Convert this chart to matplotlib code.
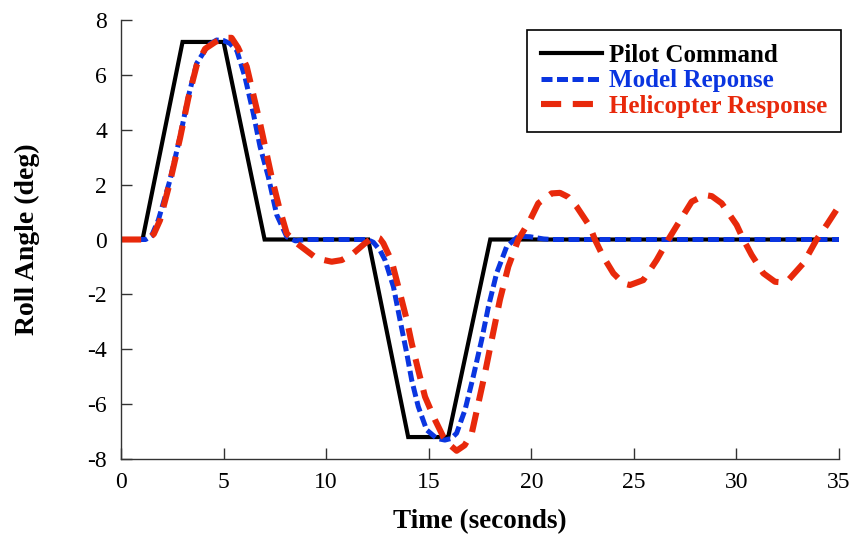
import matplotlib
matplotlib.use('Agg')
from matplotlib import pyplot as plt

plt.rcParams['font.family'] = ['Liberation Serif', 'DejaVu Serif']
plt.rcParams['axes.unicode_minus'] = False

# pilot command (trapezoids)
pilot_t = [0, 1.05, 3, 5, 7, 12.05, 14, 15.95, 18, 35]
pilot_y = [0, 0, 7.2, 7.2, 0, 0, -7.2, -7.2, 0, 0]

# model response
model_t = [0, 1.2, 1.5, 1.82, 2.39, 2.88, 3.28, 3.69, 4.26, 4.66, 5.0, 5.3,
           5.64, 6.04, 6.45, 6.78, 7.18, 7.59, 8.08, 8.5, 9.0, 12.0, 12.3,
           12.63, 12.87, 13.28, 13.6, 13.93, 14.17, 14.49, 14.9, 15.39,
           15.79, 16.1, 16.36, 16.77, 17.17, 17.58, 17.91, 18.31, 18.8,
           19.37, 19.94, 20.6, 21.0, 35]
model_y = [0, 0, 0.15, 0.71, 2.17, 3.75, 5.2, 6.42, 7.09, 7.27, 7.25, 7.15,
           6.9, 5.93, 4.6, 3.38, 2.29, 0.9, 0.1, -0.05, 0, 0, -0.1,
           -0.4, -0.75, -1.72, -2.93, -4.15, -5.12, -6.09, -6.94, -7.25,
           -7.31, -7.25, -7.06, -6.21, -5.0, -3.66, -2.45, -1.23, -0.26,
           0.12, 0.1, 0.02, 0, 0]

# helicopter response
heli_t = [0, 1.3, 1.6, 1.9, 2.39, 2.88, 3.28, 3.69, 4.1, 4.6, 5.0, 5.39,
          5.7, 6.13, 6.78, 7.34, 7.7, 8.08, 8.5, 8.89, 9.54, 10.27, 10.76,
          11.33, 11.89, 12.38, 12.6, 12.79, 13.2, 13.6, 13.93, 14.17, 14.49,
          14.82, 15.31, 15.71, 16.05, 16.36, 16.75, 17.1, 17.42, 17.74,
          18.07, 18.47, 18.88, 19.37, 19.94, 20.34, 20.99, 21.4, 21.8,
          22.21, 22.86, 23.1, 23.51, 24.0, 24.49, 24.81, 25.46, 26.11,
          26.68, 27.09, 27.82, 28.47, 28.8, 29.28, 30.01, 30.34, 30.74,
          31.31, 31.88, 32.2, 32.53, 33.26, 33.91, 34.4, 35.0]
heli_y = [0, 0, 0.2, 0.7, 2.1, 3.7, 5.15, 6.35, 6.95, 7.2, 7.35, 7.35,
          7.0, 6.3, 4.23, 2.29, 1.2, 0.22, -0.1, -0.32, -0.69, -0.81, -0.75,
          -0.5, -0.14, 0.12, 0.05, -0.14, -0.8, -1.96, -2.93, -3.78, -4.76,
          -5.73, -6.58, -7.19, -7.5, -7.7, -7.5, -7.06, -5.97, -4.88,
          -3.66, -2.2, -0.99, 0, 0.71, 1.32, 1.68, 1.7, 1.55,
          1.2, 0.47, 0, -0.63, -1.23, -1.6, -1.66, -1.48, -0.75,
          0, 0.5, 1.38, 1.62, 1.58, 1.32, 0.53, 0, -0.56,
          -1.23, -1.54, -1.56, -1.48, -0.87, 0, 0.53, 1.22]

labels = ['Pilot Command', 'Model Reponse', 'Helicopter Response']
x_ticks = [0, 5, 10, 15, 20, 25, 30, 35]
y_ticks = [-8, -6, -4, -2, 0, 2, 4, 6, 8]


def main():
  red = '#e8290b'
  blue = '#0a35e0'

  fig = plt.figure(figsize=(8.54, 5.39), dpi=100)
  ax = fig.add_axes([121 / 854, 80 / 539, 718 / 854, 439 / 539])

  ax.plot(pilot_t, pilot_y, color='black', lw=3.0, label=labels[0],
          solid_joinstyle='miter')
  ax.plot(model_t, model_y, color=blue, lw=3.6, dashes=(2.2, 0.9),
          label=labels[1])
  ax.plot(heli_t, heli_y, color=red, lw=4.4, dashes=(3.3, 1.9),
          label=labels[2])

  ax.set_xlim(0, 35)
  ax.set_ylim(-8, 8)
  ax.set_xticks(x_ticks)
  ax.set_yticks(y_ticks)
  ax.tick_params(direction='in', length=8, width=1, labelsize=17,
                 color='#333333')
  ax.tick_params(axis='y', pad=10)
  ax.tick_params(axis='x', pad=9)
  for s in ['top', 'right']:
    ax.spines[s].set_visible(False)
  for s in ['left', 'bottom']:
    ax.spines[s].set_linewidth(1)
    ax.spines[s].set_color('#333333')

  ax.set_xlabel('Time (seconds)', fontsize=19.5, fontweight='bold',
                labelpad=12)
  ax.set_ylabel('Roll Angle (deg)', fontsize=20, fontweight='bold',
                labelpad=34)

  leg = ax.legend(loc='upper right', bbox_to_anchor=(841 / 854, 1 - 30 / 539),
                  bbox_transform=fig.transFigure, fancybox=False,
                  edgecolor='black', framealpha=1, handlelength=2.45,
                  handletextpad=0.28, labelspacing=0.1, borderpad=0.55,
                  borderaxespad=0, prop={'size': 18, 'weight': 'bold'})
  leg.get_frame().set_linewidth(1.2)
  for txt, c in zip(leg.get_texts(), ['black', blue, red]):
    txt.set_color(c)

  fig.savefig('out.png', dpi=100)


if __name__ == '__main__':
  main()
